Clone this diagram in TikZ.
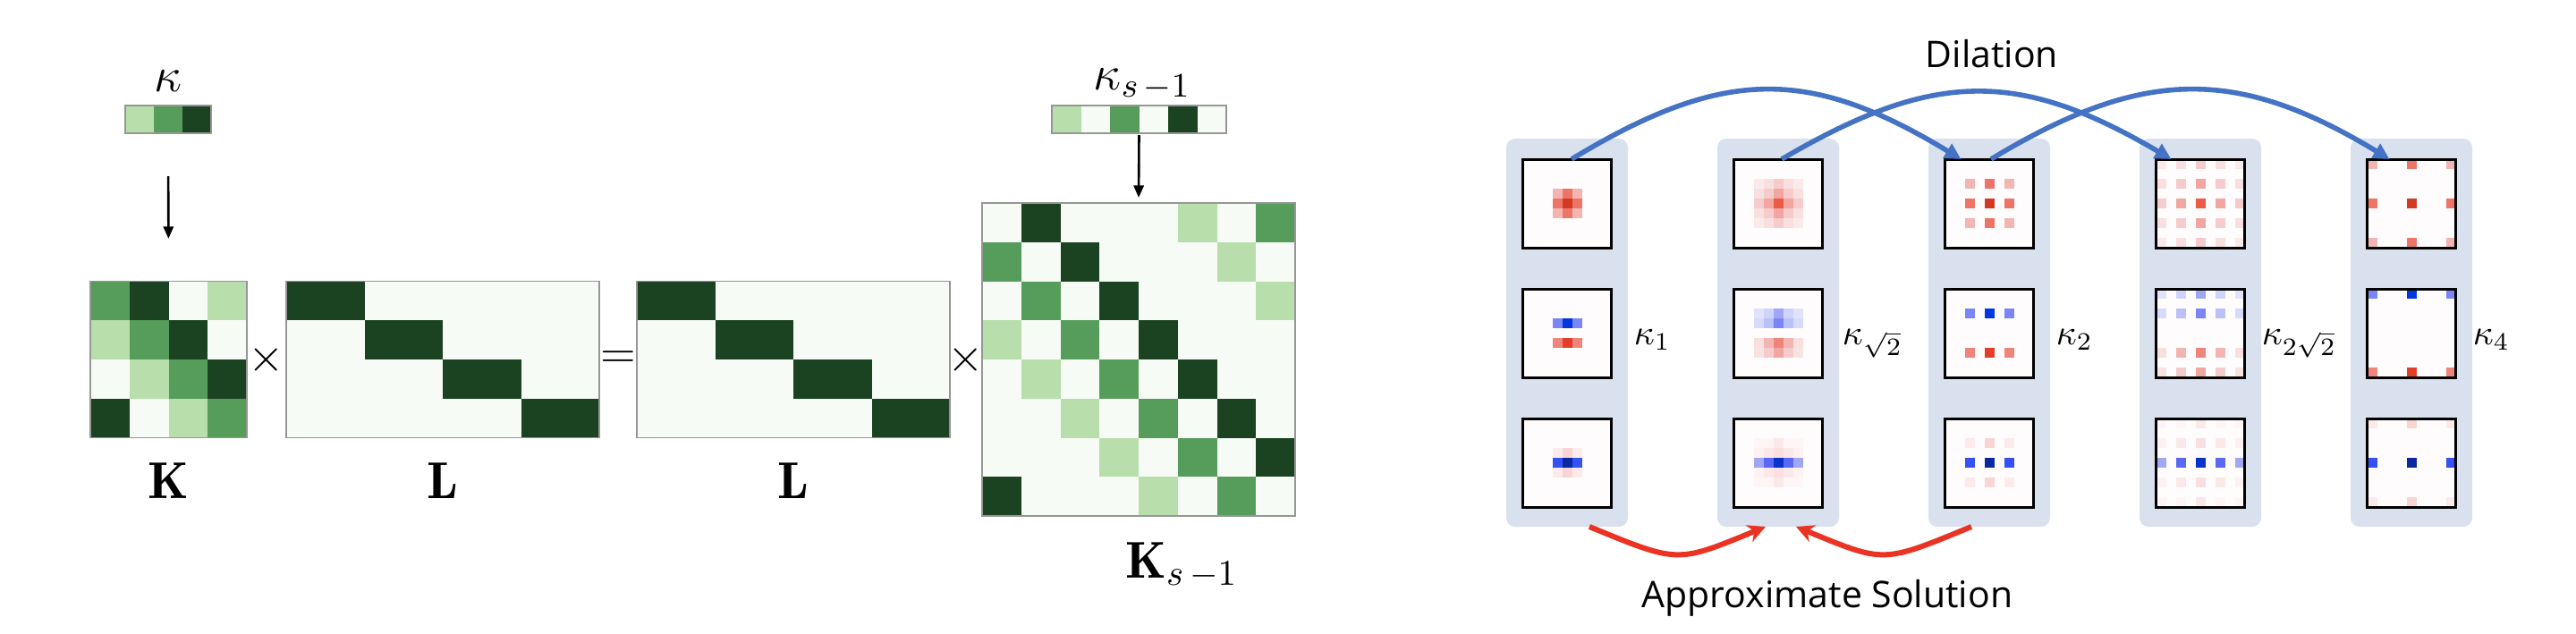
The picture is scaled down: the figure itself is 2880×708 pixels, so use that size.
\RequirePackage{fix-cm}
\documentclass[tikz,border=0pt]{standalone}
\usepackage{fontspec}
\newfontfamily\osans{Open Sans}
\usetikzlibrary{arrows.meta}
% greens
\definecolor{gd}{RGB}{28,67,33}
\definecolor{gm}{RGB}{86,156,91}
\definecolor{gl}{RGB}{184,222,172}
\definecolor{gw}{RGB}{247,251,245}
\definecolor{matb}{RGB}{150,150,150}
% reds
\definecolor{r3}{RGB}{246,203,203}
\definecolor{r4}{RGB}{243,181,178}
\definecolor{r5}{RGB}{241,166,162}
\definecolor{r6}{RGB}{238,116,104}
\definecolor{r6b}{RGB}{239,132,122}
\definecolor{r7}{RGB}{236,90,72}
\definecolor{r8}{RGB}{210,59,34}
\definecolor{r8b}{RGB}{227,62,39}
\definecolor{rA}{RGB}{253,234,234}
\definecolor{rB}{RGB}{248,212,212}
\definecolor{rq}{RGB}{251,234,234}
\definecolor{rq2}{RGB}{249,226,226}
\definecolor{rw}{RGB}{249,223,223}
\definecolor{rx}{RGB}{254,246,246}
\definecolor{rx2}{RGB}{253,241,241}
\definecolor{ry}{RGB}{251,232,232}
\definecolor{rz}{RGB}{249,223,223}
% blues
\definecolor{b1}{RGB}{225,227,252}
\definecolor{b1b}{RGB}{215,219,251}
\definecolor{b2}{RGB}{208,212,250}
\definecolor{b3}{RGB}{186,192,248}
\definecolor{b4}{RGB}{160,168,246}
\definecolor{b5}{RGB}{123,134,246}
\definecolor{b6}{RGB}{90,104,244}
\definecolor{b7}{RGB}{52,81,243}
\definecolor{b8}{RGB}{0,55,224}
\definecolor{b8c}{RGB}{8,52,200}
\definecolor{b9}{RGB}{10,40,160}
% others
\definecolor{boxbg}{RGB}{255,252,253}
\definecolor{panelc}{RGB}{218,225,238}
\definecolor{arrblue}{RGB}{68,114,196}
\definecolor{arrred}{RGB}{234,51,35}

\newcommand\matcells[4]{\foreach \pr/\pc/\pk in #4 {\fill[\pk] ({#1+\pc*#3},{#2+\pr*#3}) rectangle ++(#3,#3);}}
\newcommand\kpaint[5]{\foreach \pr/\pc/\pk in #5 {\fill[\pk] ({#1-49.5+11*(#3+#4*\pc)},{#2-49.5+11*(#3+#4*\pr)}) rectangle ++(11,11);}}

\def\Klist{0/0/gm,0/1/gd,0/3/gl,1/0/gl,1/1/gm,1/2/gd,2/1/gl,2/2/gm,2/3/gd,3/0/gd,3/2/gl,3/3/gm}
\def\Llist{0/0/gd,0/1/gd,1/2/gd,1/3/gd,2/4/gd,2/5/gd,3/6/gd,3/7/gd}
\def\KSlist{0/1/gd,0/7/gm,0/5/gl,1/2/gd,1/0/gm,1/6/gl,2/3/gd,2/1/gm,2/7/gl,3/4/gd,3/2/gm,3/0/gl,4/5/gd,4/3/gm,4/1/gl,5/6/gd,5/4/gm,5/2/gl,6/7/gd,6/5/gm,6/3/gl,7/0/gd,7/6/gm,7/4/gl}

\def\KAtop{0/0/r4,0/1/r6,0/2/r4,1/0/r6,1/1/r8,1/2/r6,2/0/r4,2/1/r6,2/2/r4}
\def\KAmid{0/0/b5,0/1/b8,0/2/b5,2/0/r6b,2/1/r8b,2/2/r6b}
\def\KAbot{0/0/rA,0/1/rB,0/2/rA,1/0/b7,1/1/b9,1/2/b7,2/0/rA,2/1/rB,2/2/rA}
\def\KBtop{0/0/rq,0/1/rw,0/2/r3,0/3/rw,0/4/rq,1/0/rw,1/1/r3,1/2/r5,1/3/r3,1/4/rw,2/0/r3,2/1/r5,2/2/r7,2/3/r5,2/4/r3,3/0/rw,3/1/r3,3/2/r5,3/3/r3,3/4/rw,4/0/rq,4/1/rw,4/2/r3,4/3/rw,4/4/rq}
\def\KBmid{0/0/b1,0/1/b2,0/2/b4,0/3/b2,0/4/b1,1/0/b1b,1/1/b3,1/2/b5,1/3/b3,1/4/b1b,3/0/rw,3/1/r4,3/2/r6b,3/3/r4,3/4/rw,4/0/rq2,4/1/r3,4/2/r5,4/3/r3,4/4/rq2}
\def\KBbot{0/0/rx,0/1/rx,0/2/ry,0/3/rx,0/4/rx,1/0/rx2,1/1/ry,1/2/rz,1/3/ry,1/4/rx2,2/0/b4,2/1/b6,2/2/b8c,2/3/b6,2/4/b4,3/0/rx2,3/1/ry,3/2/rz,3/3/ry,3/4/rx2,4/0/rx,4/1/rx,4/2/ry,4/3/rx,4/4/rx}

\begin{document}
\begin{tikzpicture}[x=0.25pt, y=-0.25pt,
  mat/.style={draw=matb, line width=0.3pt, inner sep=0pt, outer sep=0pt},
  kbox/.style={draw=black, line width=0.75pt, inner sep=0pt, outer sep=0pt, minimum width=24.75pt, minimum height=24.75pt},
  panel/.style={fill=panelc, rounded corners=2.5pt, inner sep=0pt, outer sep=0pt, minimum width=34pt, minimum height=108.5pt},
  blkarr/.style={-{Triangle[length=3.4pt,width=2.8pt]}, line width=0.65pt},
  bluearr/.style={-{Triangle[length=4.5pt,width=4.5pt]}, draw=arrblue, line width=1.4pt},
  redarr/.style={-{Stealth[length=5pt,width=5pt]}, draw=arrred, line width=1.5pt},
  lab/.style={inner sep=0pt, font=\fontsize{14.5}{17}\selectfont},
  op/.style={inner sep=0pt, font=\fontsize{13}{16}\selectfont},
  klabl/.style={inner sep=0pt, font=\fontsize{13.75}{16}\selectfont},
  klab/.style={inner sep=0pt, anchor=base west, font=\fontsize{10}{12}\selectfont},
  sanslab/.style={inner sep=0pt, anchor=base, font=\osans\fontsize{10.25}{12}\selectfont}]
\useasboundingbox (0,0) rectangle (2880,708);
\fill[white] (0,0) rectangle (2880,708);

% ---------- left: matrices ----------
% K
\fill[gw] (101,314.5) rectangle ++(175,175);
\matcells{101}{314.5}{43.75}\Klist
\node[mat, minimum width=43.75pt, minimum height=43.75pt] (K) at (188.5,402) {};
% L
\fill[gw] (320,314.5) rectangle ++(350,175);
\matcells{320}{314.5}{43.75}\Llist
\node[mat, minimum width=87.5pt, minimum height=43.75pt] (L1) at (495,402) {};
% L (second)
\fill[gw] (712,314.5) rectangle ++(350,175);
\matcells{712}{314.5}{43.75}\Llist
\node[mat, minimum width=87.5pt, minimum height=43.75pt] (L2) at (887,402) {};
% K_{s-1}
\fill[gw] (1098,227) rectangle ++(350,350);
\matcells{1098}{227}{43.75}\KSlist
\node[mat, minimum width=87.5pt, minimum height=87.5pt] (KS) at (1273,402) {};

% kernel bars
\foreach \pc/\pk in {0/gl,1/gm,2/gd} {\fill[\pk] ({140+32*\pc},118) rectangle ++(32,31);}
\node[mat, minimum width=24pt, minimum height=7.75pt] (kbar) at (188,133.5) {};
\foreach \pc/\pk in {0/gl,1/gw,2/gm,3/gw,4/gd,5/gw} {\fill[\pk] ({1176+32.5*\pc},118) rectangle ++(32.5,31);}
\node[mat, minimum width=48.75pt, minimum height=7.75pt] (kbar2) at (1273.5,133.5) {};

% labels
\node[klabl, anchor=base] (kap) at (188,102) {$\kappa$};
\node[klabl, anchor=base west] (kaps) at (1222,100) {$\kappa_{s\,-1}$};
\node[lab, anchor=base] (Klab) at (188.5,557) {$\mathbf{K}$};
\node[lab, anchor=base] (L1lab) at (495,557) {$\mathbf{L}$};
\node[lab, anchor=base] (L2lab) at (887,557) {$\mathbf{L}$};
\node[lab, anchor=base west] (KSlab) at (1258,646) {$\mathbf{K}_{s\,-1}$};

% operators
\node[op] (op1) at (298,402) {$\times$};
\node[op] (op2) at (691,402) {$=$};
\node[op] (op3) at (1080,402) {$\times$};

% arrows
\draw[blkarr, shorten <=12pt, shorten >=11.9pt] (kbar.south) -- (K.north);
\draw[blkarr, shorten <=0.5pt, shorten >=1.5pt] (kbar2.south) -- (KS.north);

% ---------- right: dilated kernels ----------
\foreach \k/\cx in {1/1752,2/1988,3/2224,4/2460,5/2696} {
  \node[panel] (P\k) at (\cx,372) {};
}
\foreach \cx in {1752,1988,2224,2460,2696} {
  \foreach \cy in {227.5,372.5,517.5} {
    \fill[boxbg] ({\cx-49.5},{\cy-49.5}) rectangle ++(99,99);
  }
}
\kpaint{1752}{227.5}{3}{1}\KAtop
\kpaint{1752}{372.5}{3}{1}\KAmid
\kpaint{1752}{517.5}{3}{1}\KAbot
\kpaint{1988}{227.5}{2}{1}\KBtop
\kpaint{1988}{372.5}{2}{1}\KBmid
\kpaint{1988}{517.5}{2}{1}\KBbot
\kpaint{2224}{227.5}{2}{2}\KAtop
\kpaint{2224}{372.5}{2}{2}\KAmid
\kpaint{2224}{517.5}{2}{2}\KAbot
\kpaint{2460}{227.5}{0}{2}\KBtop
\kpaint{2460}{372.5}{0}{2}\KBmid
\kpaint{2460}{517.5}{0}{2}\KBbot
\kpaint{2696}{227.5}{0}{4}\KAtop
\kpaint{2696}{372.5}{0}{4}\KAmid
\kpaint{2696}{517.5}{0}{4}\KAbot
\foreach \k/\cx in {1/1752,2/1988,3/2224,4/2460,5/2696} {
  \node[kbox] (T\k) at (\cx,227.5) {};
  \node[kbox] (M\k) at (\cx,372.5) {};
  \node[kbox] (D\k) at (\cx,517.5) {};
}

% kappa labels
\node[klab] (lk1) at (1826,385) {$\kappa_1$};
\node[klab] (lk2) at (2059,385) {$\kappa_{\sqrt{2}}$};
\node[klab] (lk3) at (2298,385) {$\kappa_2$};
\node[klab] (lk4) at (2528,385) {$\kappa_{2\sqrt{2}}$};
\node[klab] (lk5) at (2764,385) {$\kappa_4$};

% dilation arrows
\draw[bluearr] ([xshift=1.25pt]T1.north) .. controls +(170,-103) and +(-170,-103) .. ([xshift=4.5pt]T3.north west);
\draw[bluearr] ([xshift=1pt]T2.north) .. controls +(170,-100) and +(-170,-100) .. ([xshift=4.25pt]T4.north west);
\draw[bluearr] ([xshift=0.5pt]T3.north) .. controls +(170,-103) and +(-170,-103) .. ([xshift=6.25pt]T5.north west);

% approximate-solution arrows
\draw[redarr] ([xshift=6.25pt]P1.south) .. controls +(100,41) and +(-100,41) .. ([xshift=-3.5pt]P2.south);
\draw[redarr] ([xshift=-5pt]P3.south) .. controls +(-100,41) and +(100,41) .. ([xshift=5pt]P2.south);

\node[sanslab] (dil) at (2227,75) {Dilation};
\node[sanslab] (apx) at (2043,679) {Approximate Solution};
\end{tikzpicture}
\end{document}
